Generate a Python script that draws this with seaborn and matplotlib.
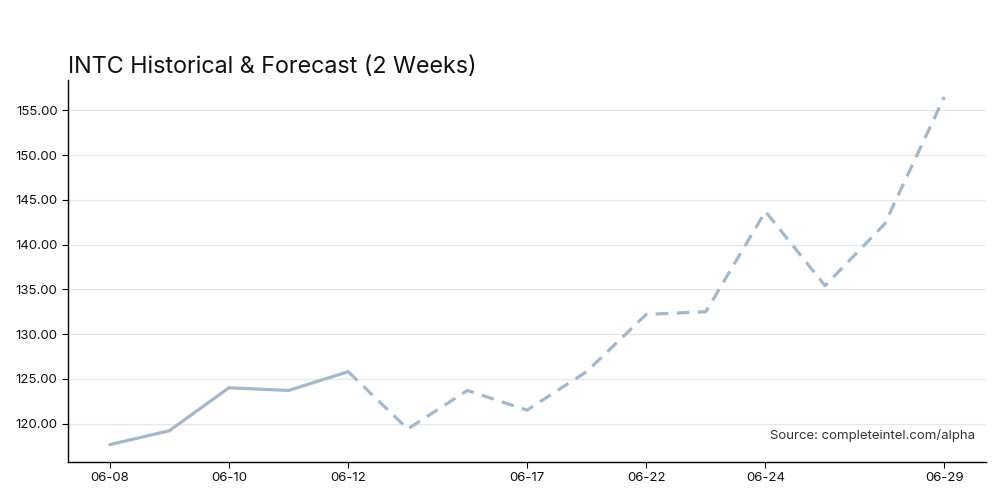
import matplotlib
matplotlib.use("Agg")
import matplotlib.pyplot as plt
import seaborn as sns
import pandas as pd

# Data
dates = ["06-08", "06-09", "06-10", "06-11", "06-12", "06-15", "06-16", "06-17",
         "06-18", "06-22", "06-23", "06-24", "06-25", "06-26", "06-29"]
prices = [117.65, 119.2, 124.0, 123.7, 125.8, 119.4, 123.7, 121.5,
          125.8, 132.2, 132.5, 143.7, 135.4, 142.3, 156.5]
n_hist = 5  # first five points are historical, forecast continues from the last one
shown_ticks = ["06-08", "06-10", "06-12", "06-17", "06-22", "06-24", "06-29"]

df = pd.DataFrame({"pos": range(len(dates)), "date": dates, "price": prices})
hist = df.iloc[:n_hist]
fc = df.iloc[n_hist - 1:]

sns.set_theme(style="white")
plt.rcParams["font.family"] = ["Inter", "DejaVu Sans"]

color = "#a3b8cb"
fig = plt.figure(figsize=(10, 5), dpi=100)
ax = fig.add_axes([0.068, 0.076, 0.918, 0.765])

sns.lineplot(data=hist, x="pos", y="price", ax=ax, color=color, linewidth=2.3)
sns.lineplot(data=fc, x="pos", y="price", ax=ax, color=color, linewidth=2.3,
             linestyle=(0, (4, 2.6)))

ax.set_xticks([dates.index(d) for d in shown_ticks])
ax.set_xticklabels(shown_ticks)
ax.yaxis.set_major_formatter(matplotlib.ticker.StrMethodFormatter("{x:.2f}"))
ax.set_xlabel("")
ax.set_ylabel("")
ax.margins(x=0.05, y=0.05)

ax.grid(axis="y", color="#e6e6e6", linewidth=0.9)
ax.set_axisbelow(True)
for s in ["top", "right"]:
    ax.spines[s].set_visible(False)
for s in ["left", "bottom"]:
    ax.spines[s].set_color("black")
    ax.spines[s].set_linewidth(1.0)
ax.tick_params(axis="both", which="both", direction="out", length=4, width=0.8,
               color="black", labelsize=9.5, labelcolor="#111111", bottom=True, left=True)

ax.set_title("INTC Historical & Forecast (2 Weeks)", loc="left", fontsize=16.8,
             color="#111111", pad=5)
ax.text(0.988, 0.068, "Source: completeintel.com/alpha", transform=ax.transAxes,
        ha="right", va="center", fontsize=9.5, color="#333333")

fig.savefig("out.png", dpi=100)
